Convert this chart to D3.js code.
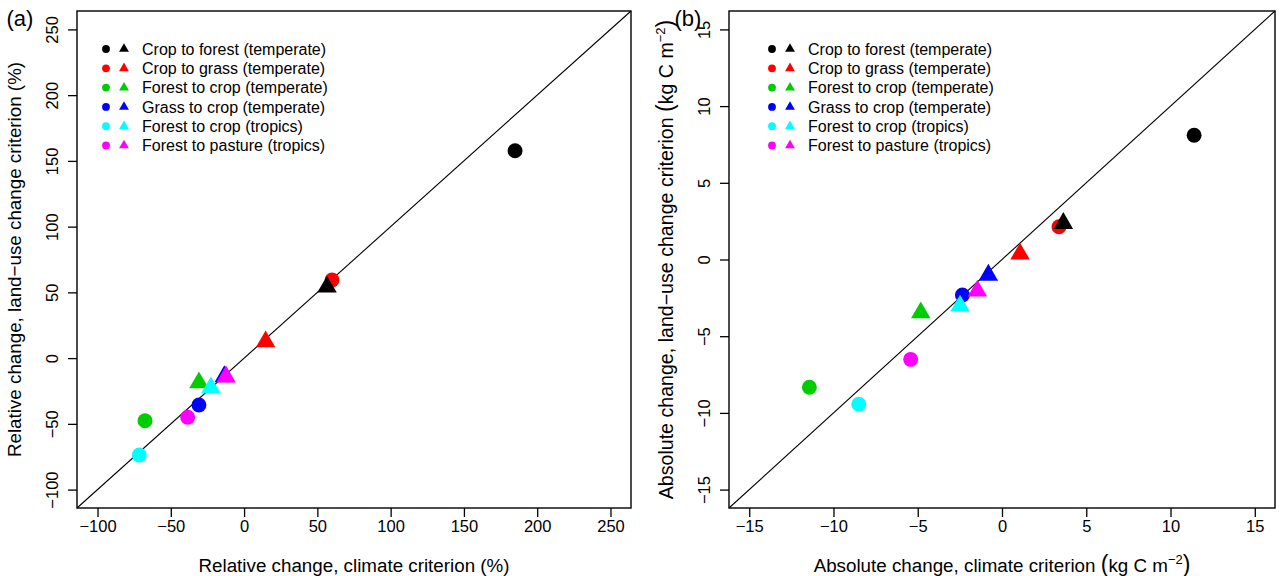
<!DOCTYPE html>
<html>
<head>
<meta charset="utf-8">
<script src="https://cdn.jsdelivr.net/npm/d3@7"></script>
<style>
body { margin: 0; background: #fff; }
text { font-family: "Liberation Sans", Arial, sans-serif; fill: #000; }
</style>
</head>
<body>
<div id="chart"></div>
<script>
// legend categories and colours
const categories = [
    "Crop to forest (temperate)",
    "Crop to grass (temperate)",
    "Forest to crop (temperate)",
    "Grass to crop (temperate)",
    "Forest to crop (tropics)",
    "Forest to pasture (tropics)"
]
const colors = ["#000000", "#FF0000", "#00CD00", "#0000FF", "#00FFFF", "#FF00FF"]

// panel (a): relative change (%)
const relClimCircle = [184.9, 60.0, -67.6, -30.8, -71.5, -38.5]
const relLandCircle = [157.7, 59.4, -47.6, -35.7, -73.7, -45.0]
const relClimTri = [56.6, 14.7, -30.8, -13.5, -22.6, -12.3]
const relLandTri = [54.1, 12.5, -18.7, -14.0, -22.5, -14.2]
const relTicks = [-100, -50, 0, 50, 100, 150, 200, 250]
const relDomain = [-114, 264]

// panel (b): absolute change (kg C m-2)
const absClimCircle = [11.4, 3.38, -11.43, -2.35, -8.50, -5.42]
const absLandCircle = [8.1, 2.14, -8.33, -2.31, -9.44, -6.51]
const absClimTri = [3.64, 1.07, -4.82, -0.81, -2.49, -1.46]
const absLandTri = [2.36, 0.36, -3.47, -1.01, -3.03, -2.05]
const absTicks = [-15, -10, -5, 0, 5, 10, 15]
const absDomain = [-16.2, 16.2]

const svg = d3.select("#chart").append("svg")
    .attr("width", 1286)
    .attr("height", 576)

const fmt = d => (d < 0 ? "\u2212" + Math.abs(d) : "" + d)

function drawPanel(p) {
    const x = d3.scaleLinear().domain(p.domain).range([p.left, p.right])
    const y = d3.scaleLinear().domain(p.domain).range([p.bottom, p.top])
    const g = svg.append("g")

    // axes
    const xAxis = d3.axisBottom(x).tickValues(p.ticks).tickSize(9).tickPadding(3).tickFormat(fmt)
    const yAxis = d3.axisLeft(y).tickValues(p.ticks).tickSize(9).tickPadding(6).tickFormat(fmt)

    const gx = g.append("g").attr("transform", `translate(0,${p.bottom})`).call(xAxis)
    gx.select(".domain").remove()
    gx.selectAll("line").attr("stroke", "#000").attr("stroke-width", 1.3)
    gx.selectAll("text").attr("font-size", 16.5).attr("font-family", "Liberation Sans, Arial, sans-serif")

    const gy = g.append("g").attr("transform", `translate(${p.left},0)`).call(yAxis)
    gy.select(".domain").remove()
    gy.selectAll("line").attr("stroke", "#000").attr("stroke-width", 1.3)
    gy.selectAll("text")
        .attr("font-size", 16.5)
        .attr("font-family", "Liberation Sans, Arial, sans-serif")
        .attr("text-anchor", "middle")
        .attr("dy", null)
        .attr("x", null)
        .attr("transform", `translate(${-25},0) rotate(-90)`)
        .attr("dominant-baseline", "central")

    // 1:1 line
    g.append("line")
        .attr("x1", x(p.domain[0])).attr("y1", y(p.domain[0]))
        .attr("x2", x(p.domain[1])).attr("y2", y(p.domain[1]))
        .attr("stroke", "#000").attr("stroke-width", 1.1)

    // box
    g.append("rect")
        .attr("x", p.left).attr("y", p.top)
        .attr("width", p.right - p.left).attr("height", p.bottom - p.top)
        .attr("fill", "none").attr("stroke", "#000").attr("stroke-width", 1.4)

    // points: circles first, then triangles
    const circ = d3.symbol().type(d3.symbolCircle).size(175)
    const tri = d3.symbol().type(d3.symbolTriangle).size(165)
    g.selectAll(".circ").data(categories).enter()
        .append("path")
        .attr("class", "circ")
        .attr("d", circ)
        .attr("fill", (d, i) => colors[i])
        .attr("transform", (d, i) => `translate(${x(p.cx[i])},${y(p.cy[i])})`)
    g.selectAll(".tri").data(categories).enter()
        .append("path")
        .attr("class", "tri")
        .attr("d", tri)
        .attr("fill", (d, i) => colors[i])
        .attr("transform", (d, i) => `translate(${x(p.tx[i])},${y(p.ty[i])})`)

    // legend
    const lg = g.append("g").attr("transform", `translate(${p.legendX},49)`)
    const item = lg.selectAll("g").data(categories).enter()
        .append("g")
        .attr("transform", (d, i) => `translate(0,${i * 19.3})`)
    item.append("path").attr("d", d3.symbol().type(d3.symbolCircle).size(48))
        .attr("fill", (d, i) => colors[i])
    item.append("path").attr("d", d3.symbol().type(d3.symbolTriangle).size(42))
        .attr("transform", "translate(18,0)")
        .attr("fill", (d, i) => colors[i])
    item.append("text")
        .attr("x", 36)
        .attr("dy", "0.35em")
        .attr("font-size", 16)
        .text(d => d)

    // x title
    const xt = g.append("text")
        .attr("x", (p.left + p.right) / 2)
        .attr("y", 572)
        .attr("text-anchor", "middle")
        .attr("font-size", 18.8)
    p.xTitle(xt)

    // y title
    const yt = g.append("text")
        .attr("transform", `translate(${p.left - 56},${(p.top + p.bottom) / 2}) rotate(-90)`)
        .attr("text-anchor", "middle")
        .attr("font-size", p.yTitleSize)
    p.yTitle(yt)

    // panel letter
    g.append("text")
        .attr("x", p.letterX)
        .attr("y", 26)
        .attr("text-anchor", "middle")
        .attr("font-size", 22)
        .text(p.letter)
}

function unitTitle(sel, label) {
    sel.append("tspan").text(label + " ")
    sel.append("tspan").attr("font-size", 23).text("(")
    sel.append("tspan").text("kg C m")
    sel.append("tspan").attr("font-size", 13).attr("dy", -8).text("\u22122")
    sel.append("tspan").attr("font-size", 23).attr("dy", 8).text(")")
}

drawPanel({
    left: 77, right: 631, top: 11, bottom: 508,
    domain: relDomain, ticks: relTicks,
    cx: relClimCircle, cy: relLandCircle, tx: relClimTri, ty: relLandTri,
    legendX: 106, letter: "(a)", letterX: 20, yTitleSize: 18.8,
    xTitle: s => s.text("Relative change, climate criterion (%)"),
    yTitle: s => s.text("Relative change, land\u2212use change criterion (%)")
})

drawPanel({
    left: 729, right: 1275, top: 11, bottom: 508,
    domain: absDomain, ticks: absTicks,
    cx: absClimCircle, cy: absLandCircle, tx: absClimTri, ty: absLandTri,
    legendX: 772, letter: "(b)", letterX: 688, yTitleSize: 19.6,
    xTitle: s => unitTitle(s, "Absolute change, climate criterion"),
    yTitle: s => unitTitle(s, "Absolute change, land\u2212use change criterion")
})
</script>
</body>
</html>
